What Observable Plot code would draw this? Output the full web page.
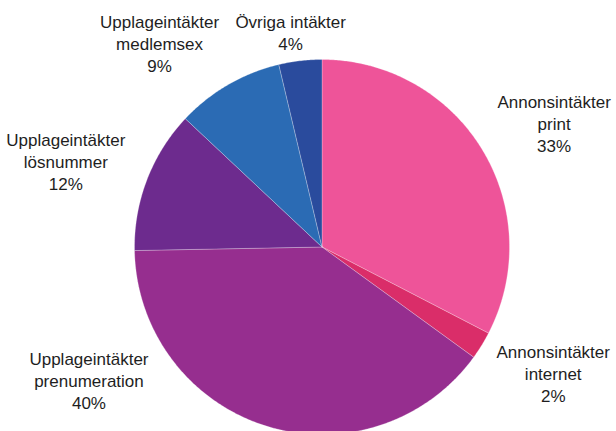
<!DOCTYPE html>
<html><head><meta charset="utf-8">
<script src="https://cdn.jsdelivr.net/npm/d3@7"></script>
<script src="https://cdn.jsdelivr.net/npm/@observablehq/plot@0.6"></script>
<style>html,body{margin:0;padding:0;background:#fff;} #chart{width:616px;height:431px;overflow:hidden;}</style>
</head><body><div id="chart"></div>
<script>
// ---- data ----
const categories = ["Annonsintäkter\nprint", "Annonsintäkter\ninternet", "Upplageintäkter\nprenumeration", "Upplageintäkter\nlösnummer", "Upplageintäkter\nmedlemsex", "Övriga intäkter"];
const shares = [32.6, 2.4, 39.7, 12.3, 9.3, 3.7];
const colors = ["#EE5499", "#DA2D69", "#962E8F", "#6D2B8E", "#2B6BB4", "#2A4B9D"];

// ---- layout ----
const W = 616, H = 431, CX = 321.5, CY = 246.5, R = 187.5;
const FONT = '"Liberation Sans", Arial, sans-serif', FS = 17, LH = 22;
const TOPMIN = 9, BOTTOMMAX = 412, DX = 215, DY = 206, D2 = 200;
const xDomain = [-CX / R, (W - CX) / R], yDomain = [-(H - CY) / R, CY / R];

const total = d3.sum(shares);
let acc = 0;
const slices = shares.map((v, i) => {
  const a0 = acc / total * 2 * Math.PI; acc += v;
  const a1 = acc / total * 2 * Math.PI;
  return {i, name: categories[i], value: v, a0, a1};
});
const polys = slices.map(s => {
  const n = Math.max(2, Math.ceil((s.a1 - s.a0) / (Math.PI / 360)));
  const pts = [{x: 0, y: 0}];
  for (let k = 0; k <= n; k++) {
    const a = s.a0 + (s.a1 - s.a0) * k / n;
    pts.push({x: Math.sin(a), y: Math.cos(a)});
  }
  pts.push({x: 0, y: 0});
  return pts;
});

const ctx = document.createElement("canvas").getContext("2d");
ctx.font = `${FS}px ${FONT}`;
const labels = slices.map(s => {
  const lines = [...s.name.split("\n"), Math.round(s.value) + "%"];
  const w = d3.max(lines, l => ctx.measureText(l).width);
  const h = lines.length * LH;
  const m = (s.a0 + s.a1) / 2, ux = Math.sin(m), uy = -Math.cos(m);
  let cx = (DX + w / 2) * ux, cy = (DY + h / 2) * uy;
  const top = TOPMIN - CY, bottom = BOTTOMMAX - CY;
  let clamped = false;
  if (cy - h / 2 < top) { cy = top + h / 2; clamped = true; }
  if (cy + h / 2 > bottom) { cy = bottom - h / 2; clamped = true; }
  if (clamped) {
    const nx = Math.max(cx - w / 2, Math.min(0, cx + w / 2));
    const ny = Math.max(cy - h / 2, Math.min(0, cy + h / 2));
    if (Math.hypot(nx, ny) < R + 2) {
      const sx = ux < 0 ? -1 : 1;
      const cornerY = cy - Math.sign(uy) * h / 2;
      const cxc = sx * Math.sqrt(Math.max(0, D2 * D2 - cornerY * cornerY));
      cx = cxc + sx * w / 2;
    }
  }
  return {text: lines.join("\n"), x: cx / R, y: -cy / R};
});

const sliceMarks = polys.map((p, i) => Plot.line(p, {
  x: "x", y: "y", fill: colors[i], stroke: "#ffffff", strokeWidth: 0.5, strokeOpacity: 0.5
}));

const chart = Plot.plot({
  width: W, height: H, margin: 0,
  x: {domain: xDomain, axis: null},
  y: {domain: yDomain, axis: null},
  style: {fontFamily: FONT, background: "#fff", overflow: "hidden"},
  marks: [
    ...sliceMarks,
    Plot.text(labels, {x: "x", y: "y", text: "text", textAnchor: "middle", lineAnchor: "middle",
      fontSize: FS, lineHeight: LH / FS, fill: "#1e1e1e"})
  ]
});
document.getElementById("chart").appendChild(chart);
</script>
</body></html>
